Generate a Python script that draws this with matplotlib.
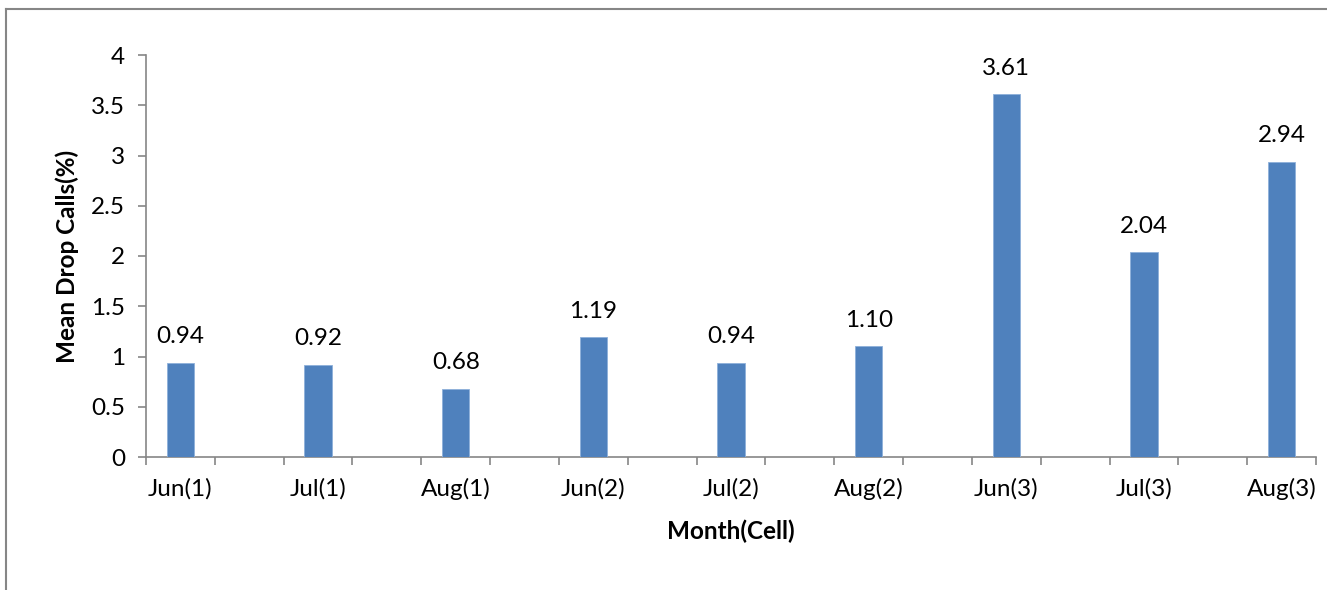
import numpy as np
import matplotlib.pyplot as plt
from matplotlib.lines import Line2D
from matplotlib.ticker import FixedLocator, NullFormatter

months = ["Jun(1)", "Jul(1)", "Aug(1)", "Jun(2)", "Jul(2)", "Aug(2)",
          "Jun(3)", "Jul(3)", "Aug(3)"]
drop_calls = [0.94, 0.92, 0.68, 1.19, 0.94, 1.10, 3.61, 2.04, 2.94]

plt.rcParams['font.family'] = ['Lato', 'DejaVu Sans']
bar_color = "#4F81BD"
axis_color = "#868686"
fs = 17.5


def main():
    fig = plt.figure(figsize=(13.27, 5.9), dpi=100)
    ax = fig.add_axes([146 / 1327, 1 - 457 / 590, 1170 / 1327, 402 / 590])

    x = np.arange(len(months))
    ax.bar(x, drop_calls, width=0.2, color=bar_color, edgecolor="#8EB0DA",
           linewidth=0.6, zorder=3)

    for xi, v in zip(x, drop_calls):
        ax.annotate(f"{v:.2f}", (xi, v), xytext=(0, 11), textcoords="offset points",
                    ha="center", va="bottom", fontsize=fs)

    ax.set_xlim(-0.25, len(months) - 0.75)
    ax.set_ylim(0, 4)
    ax.set_yticks(np.arange(0, 4.01, 0.5))
    ax.set_yticklabels([f"{t:g}" for t in np.arange(0, 4.01, 0.5)])

    # slot boundaries carry the tick marks, labels sit under the bars
    ax.xaxis.set_major_locator(FixedLocator(np.arange(-0.25, len(months) - 0.7, 0.5)))
    ax.xaxis.set_major_formatter(NullFormatter())
    ax.set_xticks(x, minor=True)
    ax.set_xticklabels(months, minor=True)

    ax.tick_params(axis="x", which="major", direction="out", length=6, width=1.2,
                   color=axis_color)
    ax.tick_params(axis="x", which="minor", length=0, pad=15, labelsize=fs)
    ax.tick_params(axis="y", direction="out", length=6, width=1.2, color=axis_color,
                   pad=9, labelsize=fs)

    for side in ["top", "right"]:
        ax.spines[side].set_visible(False)
    for side in ["left", "bottom"]:
        ax.spines[side].set_color(axis_color)
        ax.spines[side].set_linewidth(1.2)

    ax.set_ylabel("Mean Drop Calls(%)", fontsize=fs, fontweight="bold", labelpad=9)
    ax.set_xlabel("Month(Cell)", fontsize=fs, fontweight="bold", labelpad=14)

    # chart area frame
    fig.add_artist(Line2D([6 / 1327, 6 / 1327], [0, 1 - 8.5 / 590],
                          transform=fig.transFigure, color=axis_color, lw=1.5))
    fig.add_artist(Line2D([6 / 1327, 1], [1 - 8.5 / 590, 1 - 8.5 / 590],
                          transform=fig.transFigure, color=axis_color, lw=1.5))

    fig.savefig("out.png", dpi=100)


if __name__ == "__main__":
    main()
